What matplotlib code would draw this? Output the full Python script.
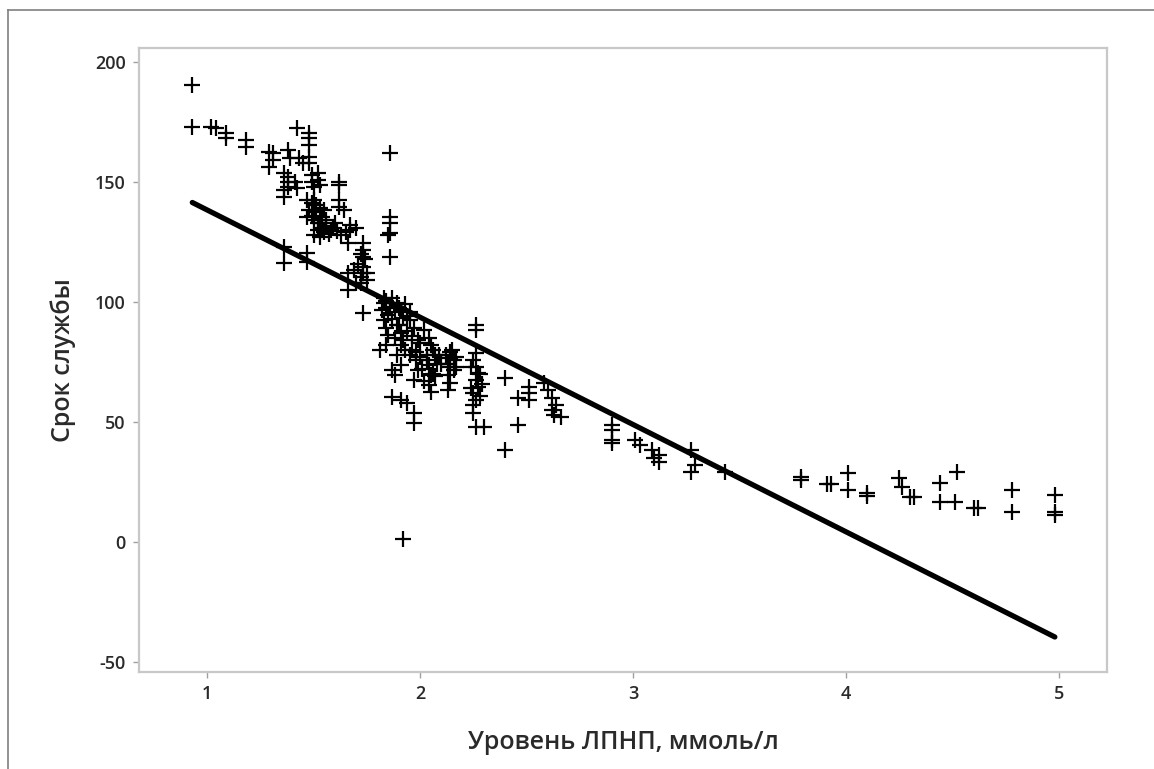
import matplotlib.pyplot as plt
from matplotlib.lines import Line2D

plt.rcParams['font.family'] = ['Open Sans', 'DejaVu Sans']
plt.rcParams['axes.unicode_minus'] = False

# LDL level (mmol/l) and service life
ldl = [
    # left, sparse
    0.93, 0.93, 1.02, 1.04, 1.09, 1.09, 1.18, 1.18, 1.29, 1.31, 1.31, 1.29,
    # upper cluster 1.35 - 1.9
    1.42, 1.48, 1.48, 1.48, 1.38, 1.39, 1.43, 1.45, 1.36, 1.38, 1.38, 1.36, 1.36,
    1.38, 1.41, 1.42, 1.48, 1.48, 1.49, 1.49, 1.50, 1.52, 1.52, 1.53,
    1.47, 1.49, 1.51, 1.53, 1.48, 1.50,
    1.47, 1.50, 1.53, 1.56, 1.58, 1.52, 1.54,
    1.49, 1.51, 1.52, 1.54, 1.50, 1.53, 1.55, 1.57, 1.59, 1.61, 1.60, 1.63, 1.65,
    1.62, 1.62, 1.62, 1.62, 1.64, 1.67, 1.67, 1.70, 1.55, 1.56,
    1.36, 1.36, 1.47, 1.47, 1.66,
    1.73, 1.73, 1.73, 1.73, 1.73, 1.69, 1.72, 1.75, 1.66, 1.66, 1.72, 1.73,
    1.71, 1.74, 1.72, 1.75, 1.70,
    1.86, 1.86, 1.86, 1.86, 1.86, 1.85,
    # dense cluster 1.8 - 2.3
    1.83, 1.83, 1.84, 1.85, 1.83, 1.84, 1.85, 1.81, 1.84,
    1.84, 1.86, 1.88, 1.90, 1.93, 1.95, 1.94, 1.82, 1.87, 1.90,
    1.87, 1.89, 1.91, 1.92, 1.89, 1.91, 1.92, 1.89, 1.91, 1.88, 1.87, 1.91, 1.94, 1.87,
    1.88, 1.91, 1.93, 1.95, 1.98, 2.00, 1.96, 2.00, 1.94,
    1.95, 1.97, 1.99, 1.96, 1.98, 1.99, 1.97, 1.97, 1.97,
    2.02, 2.04, 2.05, 2.03, 2.04, 2.05, 2.04, 2.05, 2.07, 2.08, 2.06,
    2.01, 2.03, 2.06, 2.09, 2.10, 2.07, 2.02,
    2.14, 2.14, 2.14, 2.13, 2.14, 2.13, 2.16, 2.16,
    2.12, 2.15, 2.17, 2.13, 2.17,
    2.26, 2.26, 2.26, 2.25, 2.26, 2.27, 2.26, 2.27, 2.25, 2.26, 2.25, 2.26, 2.30,
    2.24, 2.28, 2.29, 2.24, 2.28, 2.25,
    2.40, 2.40, 2.46, 2.46, 2.51, 2.51, 2.51,
    2.58, 2.60, 2.62, 2.64, 2.62, 2.66, 2.63,
    1.92,
    # 2.9 - 3.4
    2.90, 2.90, 2.90, 2.90, 3.01, 3.03, 3.09, 3.12, 3.12, 3.10,
    3.27, 3.29, 3.27, 3.43,
    # right tail
    3.79, 3.79, 3.91, 3.93, 4.01, 4.01, 4.10, 4.10, 4.25, 4.26, 4.30, 4.32,
    4.44, 4.44, 4.52, 4.51, 4.60, 4.62, 4.78, 4.78, 4.98, 4.98, 4.98,
]
life = [
    190.4, 172.9, 172.9, 172.5, 170.4, 168.3, 167.5, 164.6, 162.5, 162.1, 159.2, 156.3,
    172.5, 170.4, 168.3, 165.4, 163.3, 160.0, 160.0, 157.9, 153.8, 152.1, 150.0, 146.7, 143.8,
    147.9, 150.0, 147.5, 160.4, 157.9, 152.9, 150.0, 147.9, 153.8, 150.8, 148.8,
    142.5, 141.3, 140.4, 139.2, 138.3, 142.5,
    135.4, 134.2, 132.9, 131.7, 130.0, 130.0, 135.4,
    136.0, 137.5, 133.0, 131.0, 128.0, 127.0, 129.0, 128.5, 131.0, 129.5, 133.0, 128.0, 129.0,
    150.0, 148.8, 142.5, 139.6, 138.3, 132.1, 130.0, 130.8, 138.3, 134.2,
    122.9, 116.3, 120.4, 116.7, 124.6,
    124.6, 121.7, 118.8, 114.6, 112.1, 113.3, 110.4, 109.2, 112.1, 105.0, 107.9, 95.4,
    116.0, 118.0, 120.0, 112.0, 108.0,
    162.1, 135.4, 132.9, 128.8, 118.8, 127.9,
    101.7, 99.6, 97.5, 94.6, 92.5, 89.2, 86.3, 80.0, 82.1,
    100.5, 98.0, 96.0, 97.5, 99.0, 96.0, 94.0, 96.5, 93.0, 90.5,
    101.7, 99.6, 96.7, 93.3, 90.4, 87.1, 84.2, 77.9, 73.8, 69.6, 60.4, 59.2, 57.9, 71.7,
    85.0, 82.0, 80.0, 78.0, 79.0, 77.0, 86.0, 83.0, 88.0,
    92.5, 89.2, 84.2, 80.0, 75.8, 71.7, 67.5, 53.8, 49.6,
    88.3, 85.0, 82.1, 77.9, 73.8, 69.6, 65.4, 62.5, 78.0, 74.0, 70.0,
    72.0, 76.0, 80.0, 78.0, 74.0, 69.0, 67.0,
    79.2, 76.7, 72.9, 69.6, 66.3, 63.3, 75.8, 71.7,
    78.0, 80.0, 77.0, 74.0, 73.0,
    90.4, 88.3, 78.8, 75.8, 72.9, 70.4, 67.5, 64.6, 62.1, 59.2, 53.8, 47.9, 47.9,
    73.0, 70.0, 66.0, 64.0, 61.0, 57.0,
    68.3, 38.3, 60.0, 48.8, 64.6, 62.1, 59.2,
    66.3, 63.3, 60.0, 57.1, 55.0, 52.1, 52.9,
    1.3,
    48.8, 46.7, 42.5, 41.3, 42.5, 40.4, 38.3, 36.3, 33.3, 35.0,
    38.3, 32.1, 29.2, 29.2,
    27.1, 25.8, 24.2, 24.2, 28.8, 21.7, 20.4, 19.2, 26.7, 22.9, 18.8, 18.8,
    24.6, 16.7, 29.2, 16.7, 14.2, 14.2, 21.7, 12.5, 19.6, 12.5, 11.3,
]

# fitted line as shown
fit_intercept = 183.0
fit_slope = -44.7

x_ticks = [1, 2, 3, 4, 5]
y_ticks = [-50, 0, 50, 100, 150, 200]

fig = plt.figure(figsize=(11.54, 7.69), dpi=100)
ax = fig.add_axes([0.1205, 0.1261, 0.8388, 0.8115])

ax.plot(ldl, life, linestyle='none', marker='+', markersize=12, markeredgewidth=1.6, color='black')

fx = [min(ldl), max(ldl)]
fy = [fit_intercept + fit_slope * v for v in fx]
ax.plot(fx, fy, color='black', linewidth=3.8, solid_capstyle='round')

ax.set_xlim(0.68, 5.225)
ax.set_ylim(-54.2, 205.8)
ax.set_xticks(x_ticks)
ax.set_yticks(y_ticks)

for s in ax.spines.values():
    s.set_color('#c8c8c8')
    s.set_linewidth(1.6)
ax.tick_params(length=4.5, width=1, color='#a0a0a0', labelsize=13, labelcolor='#2a2a2a', pad=5)
for lab in ax.get_xticklabels() + ax.get_yticklabels():
    lab.set_fontweight('semibold')

ax.set_xlabel('Уровень ЛПНП, ммоль/л', fontsize=18, fontweight='semibold', color='#2a2a2a', labelpad=19)
ax.set_ylabel('Срок службы', fontsize=18, fontweight='semibold', color='#2a2a2a', labelpad=14)

# screenshot frame (top and left edges)
fig.add_artist(Line2D([0.007, 1.0], [0.987, 0.987], color='#808080', linewidth=1.2))
fig.add_artist(Line2D([0.007, 0.007], [0.0, 0.987], color='#808080', linewidth=1.2))

fig.savefig('out.png', dpi=100)
